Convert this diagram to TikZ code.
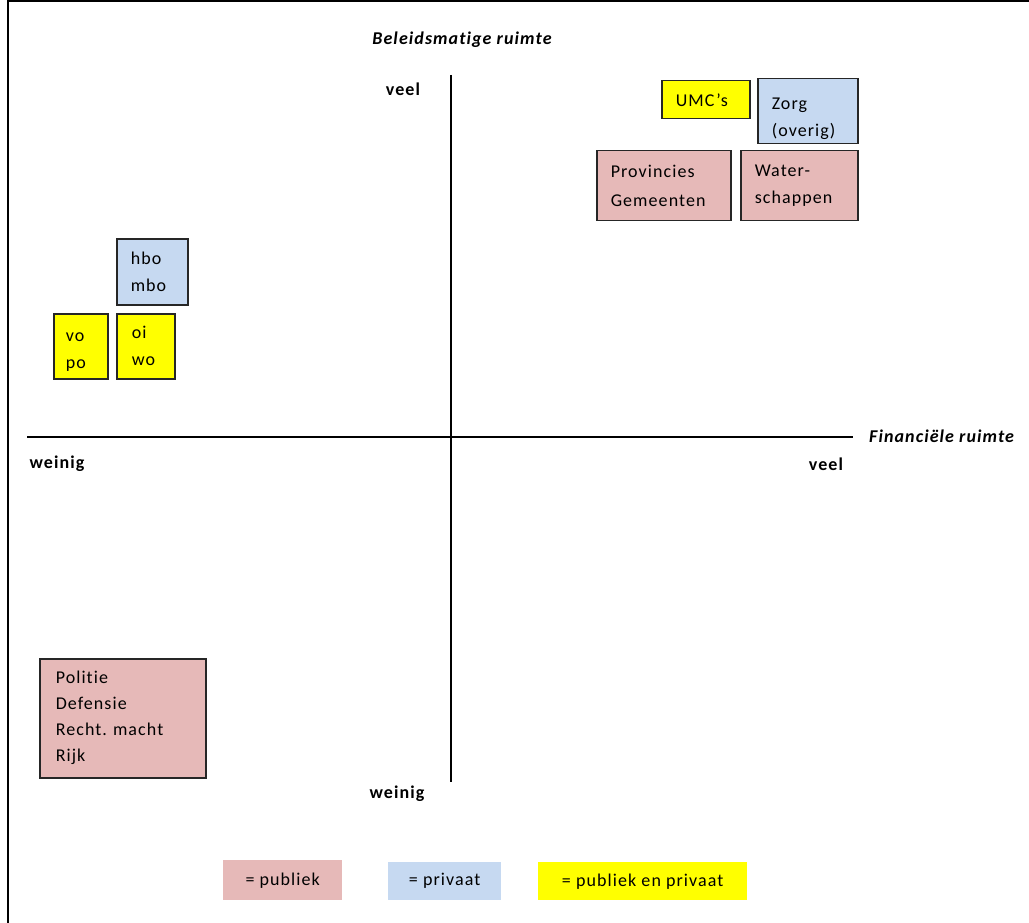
\documentclass[tikz,border=0pt]{standalone}
\usepackage{fontspec}
\setmainfont{Carlito}[LetterSpace=6, Ligatures=NoCommon]
\frenchspacing
\definecolor{publiek}{HTML}{E6B9B8}
\definecolor{privaat}{HTML}{C6D9F1}
\definecolor{beide}{HTML}{FFFF00}
\begin{document}
\begin{tikzpicture}[x=1pt,y=-1pt,
  box/.style={draw=black!85, line width=1.5pt, anchor=north west, inner xsep=14pt, inner ysep=0pt, align=left,
     font=\fontsize{18}{27}\selectfont},
  legend/.style={anchor=north west, inner sep=0pt, align=center, font=\fontsize{18}{27}\selectfont},
  lab/.style={font=\fontsize{18}{20}\selectfont\bfseries, inner sep=0pt},
  axislab/.style={font=\fontsize{18}{20}\selectfont\bfseries\itshape, inner sep=0pt},
  axis/.style={line width=1.3pt}
]
\useasboundingbox (0,0) rectangle (1029,923);
% frame
\draw[line width=2.2pt] (8,923) -- (8,0.8) -- (1029,0.8);

% axes
\coordinate (vtop) at (451,75);
\coordinate (vbot) at (451,782);
\coordinate (hleft) at (27,437);
\coordinate (hright) at (853,437);
\draw[axis] (vtop) -- (vbot);
\draw[axis] (hleft) -- (hright);

% axis labels
\node[axislab] (beleid) at (462,40) {Beleidsmatige ruimte};
\node[axislab, anchor=west] (fin) at (869,436) {Financiële ruimte};
\node[lab] (veeltop) at (403,89) {veel};
\node[lab] (weinigbot) at (397,794) {weinig};
\node[lab] (weinigleft) at (57,464) {weinig};
\node[lab] (veelright) at (826,464) {veel};

% boxes
\node[box, fill=beide, minimum width=88pt, minimum height=38pt, text width=60pt] (umc) at (661,80) {UMC’s};
\node[box, fill=privaat, minimum width=100pt, minimum height=65pt, text width=72pt] (zorg) at (757,78) {\rule{0pt}{26pt}Zorg\\[0pt](overig)};
\node[box, fill=publiek, minimum width=134pt, minimum height=70pt, text width=106pt] (prov) at (596,150) {Provincies\\[2pt]Gemeenten};
\node[box, fill=publiek, minimum width=117pt, minimum height=70pt, text width=89pt] (water) at (740,150) {Water-\\schappen};
\node[box, fill=privaat, minimum width=71pt, minimum height=66pt, text width=43pt] (hbo) at (116,238) {hbo\\mbo};
\node[box, fill=beide, minimum width=53pt, minimum height=65pt, text width=30pt, inner xsep=12pt] (vo) at (53,313) {\rule{0pt}{20pt}vo\\po};
\node[box, fill=beide, minimum width=58pt, minimum height=65pt, text width=28pt, inner xsep=15pt] (oi) at (116,313) {oi\\wo};
\node[box, fill=publiek, minimum width=166pt, minimum height=119pt, text width=134pt, font=\fontsize{18}{26}\selectfont] (politie) at (39,658) {Politie\\Defensie\\Recht. macht\\Rijk};

% legend
\node[legend, fill=publiek, minimum width=119pt, minimum height=40pt] (lpub) at (223,860) {= publiek};
\node[legend, fill=privaat, minimum width=113pt, minimum height=38pt] (lpriv) at (388,862) {= privaat};
\node[legend, fill=beide, minimum width=209pt, minimum height=38pt] (lbeide) at (538,862) {= publiek en privaat};
\end{tikzpicture}
\end{document}
